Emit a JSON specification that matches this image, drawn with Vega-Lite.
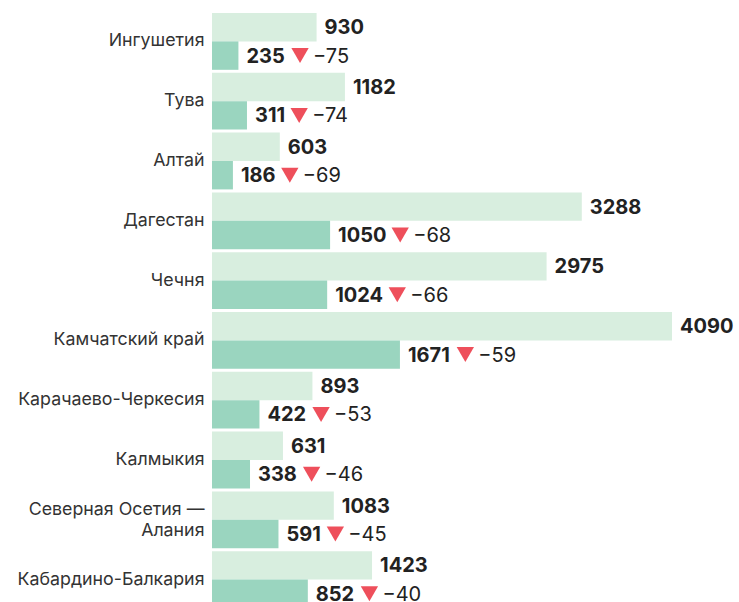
{
  "$schema": "https://vega.github.io/schema/vega-lite/v6.json",
  "autosize": "none",
  "padding": {"left": 212, "top": 13, "right": 67, "bottom": 0},
  "width": 460,
  "height": 595,
  "config": {"view": {"stroke": null}, "font": "Inter"},
  "data": {
    "values": [
      {"region": "Ингушетия", "before": 930, "after": 235, "change": -75},
      {"region": "Тува", "before": 1182, "after": 311, "change": -74},
      {"region": "Алтай", "before": 603, "after": 186, "change": -69},
      {"region": "Дагестан", "before": 3288, "after": 1050, "change": -68},
      {"region": "Чечня", "before": 2975, "after": 1024, "change": -66},
      {"region": "Камчатский край", "before": 4090, "after": 1671, "change": -59},
      {"region": "Карачаево-Черкесия", "before": 893, "after": 422, "change": -53},
      {"region": "Калмыкия", "before": 631, "after": 338, "change": -46},
      {"region": "Северная Осетия — Алания", "before": 1083, "after": 591, "change": -45},
      {"region": "Кабардино-Балкария", "before": 1423, "after": 852, "change": -40}
    ]
  },
  "transform": [
    {"fold": ["before", "after"], "as": ["series", "value"]}
  ],
  "encoding": {
    "y": {
      "field": "region",
      "type": "nominal",
      "sort": null,
      "scale": {"paddingInner": 0.05, "paddingOuter": 0},
      "axis": {
        "title": null,
        "ticks": false,
        "domain": false,
        "labelPadding": 8,
        "labelFont": "Inter",
        "labelFontSize": 17.8,
        "labelLineHeight": 21,
        "labelColor": "#333333",
        "labelLimit": 300,
        "labelOffset": {"condition": {"test": "datum.value == 'Северная Осетия — Алания'", "value": -10}, "value": 0},
        "labelExpr": "datum.value == 'Северная Осетия — Алания' ? ['Северная Осетия —', 'Алания'] : datum.value"
      }
    },
    "yOffset": {
      "field": "series",
      "type": "nominal",
      "sort": ["before", "after"],
      "scale": {"domain": ["before", "after"], "paddingInner": 0, "paddingOuter": 0}
    },
    "x": {
      "field": "value",
      "type": "quantitative",
      "scale": {"domain": [0, 4090], "nice": false, "zero": true},
      "axis": null
    }
  },
  "layer": [
    {
      "mark": {"type": "bar", "cornerRadius": 0},
      "encoding": {
        "color": {
          "field": "series",
          "type": "nominal",
          "scale": {"domain": ["before", "after"], "range": ["#d8eedf", "#9ad5bf"]},
          "legend": null
        }
      }
    },
    {
      "mark": {"type": "text", "align": "left", "baseline": "middle", "dx": 8, "dy": 1, "font": "Inter", "fontSize": 20, "fontWeight": "bold", "color": "#222222"},
      "encoding": {
        "text": {"field": "value", "type": "quantitative", "format": "d"}
      }
    },
    {
      "transform": [{"filter": "datum.series == 'after'"}],
      "mark": {
        "type": "point",
        "shape": "triangle-down",
        "size": 300,
        "filled": true,
        "opacity": 1,
        "strokeWidth": 0,
        "color": "#ee4f5b",
        "xOffset": {"expr": "8 + 13.2*length(format(datum.value,'d')) - 4.7*(length(format(datum.value,'d')) - length(replace(format(datum.value,'d'), regexp('1','g'), ''))) + 14"}
      }
    },
    {
      "transform": [{"filter": "datum.series == 'after'"}],
      "mark": {
        "type": "text",
        "align": "left",
        "baseline": "middle",
        "dy": 1,
        "font": "Inter",
        "fontSize": 20,
        "fontWeight": "normal",
        "color": "#222222",
        "xOffset": {"expr": "8 + 13.2*length(format(datum.value,'d')) - 4.7*(length(format(datum.value,'d')) - length(replace(format(datum.value,'d'), regexp('1','g'), ''))) + 27"}
      },
      "encoding": {
        "text": {"field": "change", "type": "quantitative", "format": "d"}
      }
    }
  ]
}
